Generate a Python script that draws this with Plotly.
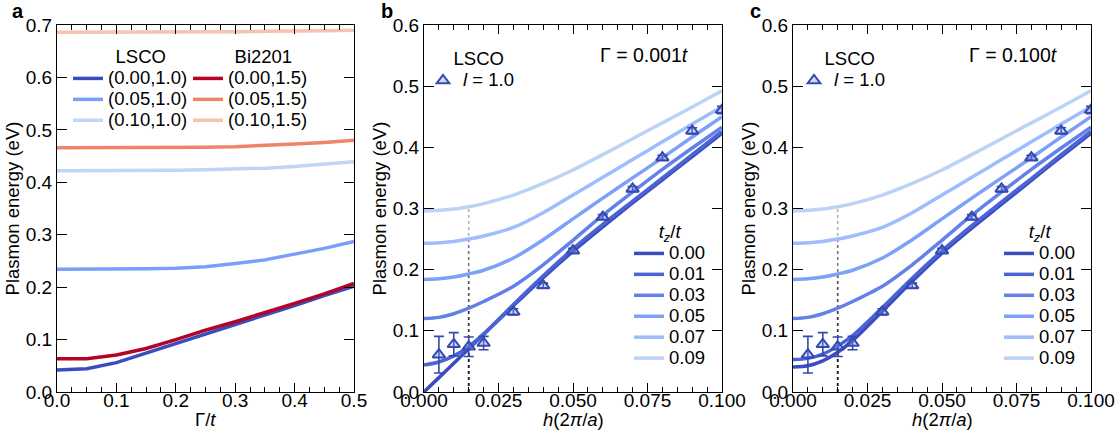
import plotly.graph_objects as go

# ---------------- Panel a data ----------------
gamma = [0.0, 0.05, 0.1, 0.15, 0.2, 0.25, 0.3, 0.35, 0.4, 0.45, 0.5]
a_lsco_000 = [0.042, 0.0445, 0.056, 0.074, 0.093, 0.111, 0.128, 0.146, 0.165, 0.184, 0.202]
a_lsco_005 = [0.234, 0.234, 0.234, 0.235, 0.236, 0.239, 0.245, 0.252, 0.263, 0.274, 0.287]
a_lsco_010 = [0.422, 0.422, 0.422, 0.422, 0.423, 0.424, 0.425, 0.427, 0.430, 0.434, 0.439]
a_bi_000 = [0.0635, 0.0635, 0.0706, 0.083, 0.100, 0.118, 0.134, 0.151, 0.169, 0.187, 0.207]
a_bi_005 = [0.466, 0.466, 0.466, 0.466, 0.467, 0.467, 0.468, 0.470, 0.473, 0.476, 0.480]
a_bi_010 = [0.686, 0.686, 0.686, 0.686, 0.686, 0.687, 0.687, 0.688, 0.688, 0.689, 0.690]
a_lsco_names = ["(0.00,1.0)", "(0.05,1.0)", "(0.10,1.0)"]
a_bi_names = ["(0.00,1.5)", "(0.05,1.5)", "(0.10,1.5)"]

# ---------------- Panels b, c data ----------------
h = [0.0, 0.005, 0.01, 0.015, 0.02, 0.03, 0.04, 0.05, 0.06, 0.07, 0.08, 0.09, 0.1]
tz_labels = ["0.00", "0.01", "0.03", "0.05", "0.07", "0.09"]
# Gamma = 0.001 t
b_tz000 = [0.0, 0.0235, 0.047, 0.0705, 0.094, 0.141, 0.187, 0.230, 0.270, 0.309, 0.347, 0.385, 0.423]
b_tz001 = [0.044, 0.049, 0.059, 0.074, 0.095, 0.143, 0.190, 0.234, 0.274, 0.312, 0.350, 0.388, 0.426]
b_tz003 = [0.120, 0.122, 0.128, 0.137, 0.148, 0.173, 0.208, 0.248, 0.289, 0.327, 0.364, 0.399, 0.433]
b_tz005 = [0.184, 0.185, 0.188, 0.193, 0.199, 0.219, 0.249, 0.283, 0.317, 0.350, 0.383, 0.417, 0.450]
b_tz007 = [0.243, 0.244, 0.246, 0.250, 0.255, 0.269, 0.293, 0.322, 0.351, 0.380, 0.409, 0.438, 0.4665]
b_tz009 = [0.296, 0.297, 0.299, 0.303, 0.308, 0.322, 0.341, 0.363, 0.388, 0.414, 0.440, 0.466, 0.4926]
# Gamma = 0.100 t
c_tz000 = [0.041, 0.043, 0.051, 0.065, 0.084, 0.132, 0.181, 0.227, 0.268, 0.307, 0.346, 0.385, 0.423]
c_tz001 = [0.053, 0.055, 0.062, 0.075, 0.092, 0.138, 0.186, 0.231, 0.272, 0.311, 0.349, 0.388, 0.426]
c_tz003 = [0.120, 0.122, 0.128, 0.137, 0.148, 0.173, 0.208, 0.248, 0.289, 0.327, 0.364, 0.399, 0.433]
c_tz005 = [0.184, 0.185, 0.188, 0.193, 0.199, 0.219, 0.249, 0.283, 0.317, 0.350, 0.383, 0.417, 0.450]
c_tz007 = [0.243, 0.244, 0.246, 0.250, 0.255, 0.269, 0.293, 0.322, 0.351, 0.380, 0.409, 0.438, 0.4665]
c_tz009 = [0.296, 0.297, 0.299, 0.303, 0.308, 0.322, 0.341, 0.363, 0.388, 0.414, 0.440, 0.466, 0.4926]
h_marker = 0.015  # dotted guide position

# Experimental points (LSCO, l = 1.0)
exp_h = [0.005, 0.01, 0.015, 0.02, 0.03, 0.04, 0.05, 0.06, 0.07, 0.08, 0.09, 0.1]
exp_E = [0.061, 0.078, 0.074, 0.080, 0.131, 0.174, 0.231, 0.286, 0.332, 0.383, 0.427, 0.461]
exp_err = [0.030, 0.019, 0.016, 0.011, 0.005, 0.004, 0.004, 0.004, 0.004, 0.004, 0.005, 0.006]

# ---------------- styles ----------------
FONT = "Liberation Sans, Arial, Helvetica, sans-serif"
FS_TICK = 19
FS_TXT = 18.5
LEG_FS = 13.8  # controls legend row spacing; visible text size set via span
lsco_cols = ["#3b4cc0", "#7b9ff9", "#c0d4f5"]
bi_cols = ["#b40426", "#ee8468", "#f5c4ac"]
tz_cols = ["#3b4cc0", "#4b64d5", "#6282ea", "#7da0f9", "#9dbdff", "#bcd2f7"]
MK = "#3549b0"
W, H = 1118, 441
NB = "&nbsp;"


def px_x(p):
    return p / W


def px_y(p):
    return 1 - p / H


def big(s):
    return '<span style="font-size:%spx">%s</span>' % (FS_TXT, s)


fig = go.Figure()

# Panel a
for ys, nm, col in zip([a_lsco_000, a_lsco_005, a_lsco_010], a_lsco_names, lsco_cols):
    fig.add_trace(go.Scatter(x=gamma, y=ys, mode="lines", name=big(nm),
                             line=dict(color=col, width=3.5),
                             xaxis="x", yaxis="y", legend="legend"))
for ys, nm, col in zip([a_bi_000, a_bi_005, a_bi_010], a_bi_names, bi_cols):
    fig.add_trace(go.Scatter(x=gamma, y=ys, mode="lines", name=big(nm),
                             line=dict(color=col, width=3.5),
                             xaxis="x", yaxis="y", legend="legend2"))

# Panels b and c
panels = [
    ("x2", "y2", [b_tz000, b_tz001, b_tz003, b_tz005, b_tz007, b_tz009], "legend3", "legend5"),
    ("x3", "y3", [c_tz000, c_tz001, c_tz003, c_tz005, c_tz007, c_tz009], "legend4", "legend6"),
]
for xa, ya, curves, leg, leg_exp in panels:
    idx = h.index(h_marker)
    for ys in curves:
        fig.add_trace(go.Scatter(x=[h_marker, h_marker], y=[0, ys[idx]], mode="lines",
                                 line=dict(color="rgba(0,0,0,0.3)", width=1.6, dash="dot"),
                                 showlegend=False, hoverinfo="skip", xaxis=xa, yaxis=ya))
    for ys, nm, col in zip(curves, tz_labels, tz_cols):
        fig.add_trace(go.Scatter(x=h, y=ys, mode="lines", name=big(nm), line_shape="spline",
                                 line=dict(color=col, width=3.5, smoothing=0.8),
                                 xaxis=xa, yaxis=ya, legend=leg))
    fig.add_trace(go.Scatter(x=exp_h, y=exp_E, mode="markers", name=big("<i>l</i> = 1.0"),
                             marker=dict(symbol="triangle-up", size=11,
                                         color="rgba(120,150,230,0.35)",
                                         line=dict(color=MK, width=2)),
                             error_y=dict(type="data", array=exp_err, color=MK,
                                          thickness=1.6, width=5),
                             xaxis=xa, yaxis=ya, legend=leg_exp))

axis_common = dict(showline=True, linecolor="black", linewidth=1.3, mirror="allticks",
                   ticks="inside", tickwidth=1.3, tickcolor="black", showgrid=False,
                   zeroline=False, automargin=False,
                   tickfont=dict(size=FS_TICK, color="black", family=FONT))

xa_dom = [px_x(57), px_x(354)]
xb_dom = [px_x(424), px_x(722)]
xc_dom = [px_x(793), px_x(1091)]
y_dom = [px_y(392), px_y(25)]
xminor_a = dict(ticks="inside", ticklen=5, dtick=0.025, tickwidth=1.3, tickcolor="black")
xminor_b = dict(ticks="inside", ticklen=5, dtick=0.005, tickwidth=1.3, tickcolor="black")
ytitle = dict(text="Plasmon energy (eV)", standoff=1, font=dict(size=FS_TXT))
XSTAND = -9

fig.update_layout(
    width=W, height=H, margin=dict(l=0, r=0, t=0, b=0),
    paper_bgcolor="white", plot_bgcolor="white",
    font=dict(family=FONT, size=FS_TXT, color="black"),
    xaxis=dict(domain=xa_dom, range=[0, 0.5], dtick=0.1, tickformat=".1f", ticklen=9,
               minor=xminor_a, ticklabelstandoff=XSTAND, anchor="y", **axis_common),
    yaxis=dict(domain=y_dom, range=[0, 0.7], dtick=0.1, tickformat=".1f", ticklen=10,
               title=ytitle, anchor="x", **axis_common),
    xaxis2=dict(domain=xb_dom, range=[0, 0.1], dtick=0.025, tickformat=".3f", ticklen=9,
                minor=xminor_b, ticklabelstandoff=XSTAND, anchor="y2", **axis_common),
    yaxis2=dict(domain=y_dom, range=[0, 0.6], dtick=0.1, tickformat=".1f", ticklen=10,
                title=ytitle, anchor="x2", **axis_common),
    xaxis3=dict(domain=xc_dom, range=[0, 0.1], dtick=0.025, tickformat=".3f", ticklen=9,
                minor=xminor_b, ticklabelstandoff=XSTAND, anchor="y3", **axis_common),
    yaxis3=dict(domain=y_dom, range=[0, 0.6], dtick=0.1, tickformat=".1f", ticklen=10,
                title=ytitle, anchor="x3", **axis_common),
)

leg_common = dict(bgcolor="rgba(0,0,0,0)", borderwidth=0, xanchor="left", yanchor="top",
                  font=dict(size=LEG_FS, family=FONT, color="black"), itemwidth=30,
                  tracegroupgap=0, traceorder="normal")


def ltitle(s, size=LEG_FS, side="top center"):
    return dict(text=big(s), side=side, font=dict(size=size, family=FONT, color="black"))


TZ = "<i>t</i><sub><i>z</i></sub>/<i>t</i>"
fig.update_layout(
    legend=dict(x=px_x(68), y=px_y(45), title=ltitle(NB * 4 + "LSCO"), **leg_common),
    legend2=dict(x=px_x(188), y=px_y(45), title=ltitle(NB * 5 + "Bi2201"), **leg_common),
    legend3=dict(x=px_x(629), y=px_y(220), title=ltitle(TZ), **leg_common),
    legend4=dict(x=px_x(999), y=px_y(220), title=ltitle(TZ), **leg_common),
    legend5=dict(x=px_x(423), y=px_y(26), title=ltitle(NB * 3 + "LSCO", size=30), **leg_common),
    legend6=dict(x=px_x(794), y=px_y(26), title=ltitle(NB * 3 + "LSCO", size=30), **leg_common),
)

LBL = dict(size=20, family=FONT, color="black")
annos = [
    dict(text="<b>a</b>", x=px_x(10), y=px_y(-2), xanchor="left", yanchor="top", font=LBL),
    dict(text="<b>b</b>", x=px_x(379), y=px_y(-2), xanchor="left", yanchor="top", font=LBL),
    dict(text="<b>c</b>", x=px_x(748), y=px_y(-2), xanchor="left", yanchor="top", font=LBL),
    dict(text="Γ = 0.001<i>t</i>", x=px_x(645), y=px_y(55), xanchor="center", yanchor="middle",
         font=dict(size=19.5, family=FONT, color="black")),
    dict(text="Γ = 0.100<i>t</i>", x=px_x(1014), y=px_y(55), xanchor="center", yanchor="middle",
         font=dict(size=19.5, family=FONT, color="black")),
]
# x-axis titles, centred under each panel
for ax, txt in [("x", "Γ/<i>t</i>"), ("x2", "<i>h</i>(2<i>π</i>/<i>a</i>)"),
                ("x3", "<i>h</i>(2<i>π</i>/<i>a</i>)")]:
    annos.append(dict(text=txt, xref=ax + " domain", x=0.5, y=px_y(419), xanchor="center",
                      yanchor="middle", font=dict(size=FS_TXT, family=FONT, color="black")))
for a in annos:
    a.setdefault("xref", "paper")
    fig.add_annotation(yref="paper", showarrow=False, **a)

fig.write_html("out.html", config={"displayModeBar": False},
               post_script="document.body.style.margin='0px';")
